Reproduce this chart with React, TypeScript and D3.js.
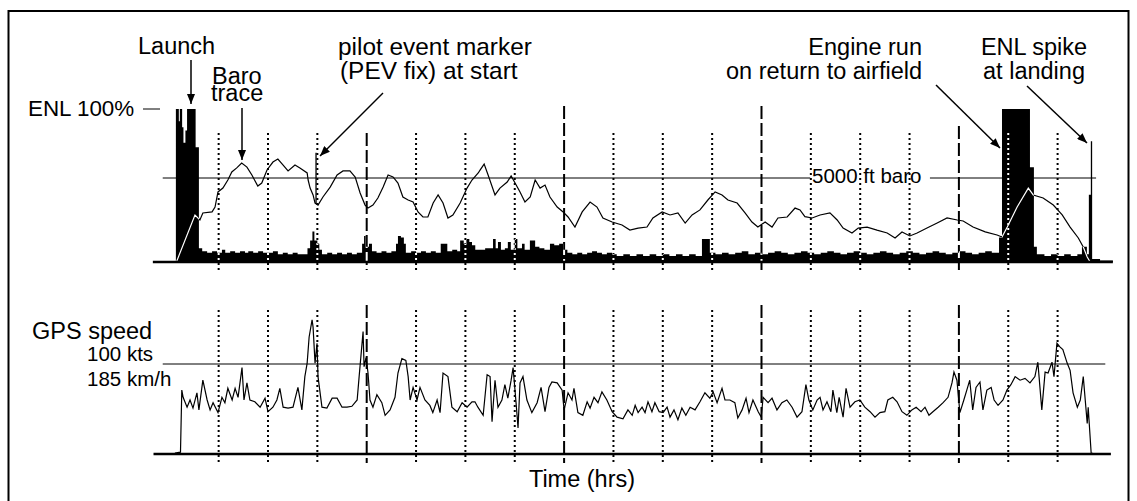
import React from "react";
import * as d3 from "d3";

const W = 1137;
const H = 501;

// ---- time grid (minutes) ----
const gridMinutes = [15, 30, 45, 60, 75, 90, 105, 120, 135, 150, 165, 180, 195, 210, 225, 240, 255, 270];

// ---- barograph trace: time (min) / altitude (ft) ----
const baroTime = [
  2.2, 7.8, 9.3, 10.2, 13.0, 13.9, 14.8, 16.3, 17.8, 19.0,
  20.5, 22.0, 23.6, 25.1, 26.9, 28.1, 29.7, 31.5, 33.0, 34.6,
  36.1, 38.2, 39.7, 41.9, 42.2, 42.8, 43.7, 44.3, 45.2, 46.7,
  48.9, 51.0, 52.8, 54.9, 56.5, 58.0, 59.5, 60.4, 61.9, 63.4,
  65.0, 66.5, 68.0, 69.5, 71.0, 72.6, 74.1, 75.6, 77.1, 78.6,
  80.2, 81.7, 83.2, 84.7, 86.2, 88.4, 90.5, 92.0, 93.9, 94.5,
  95.7, 96.9, 99.0, 100.5, 102.7, 103.9, 105.1, 106.6, 108.1, 109.7,
  111.2, 112.7, 114.2, 115.7, 117.9, 119.7, 121.2, 123.3, 125.5, 127.9,
  130.0, 131.8, 134.6, 137.6, 140.0, 142.5, 145.2, 147.0, 149.8, 152.2,
  154.6, 156.8, 158.9, 161.3, 163.7, 165.9, 168.0, 169.8, 172.6, 175.0,
  177.1, 178.9, 181.1, 183.2, 185.0, 187.8, 190.2, 191.7, 193.2, 195.4,
  197.8, 200.8, 203.0, 204.8, 207.5, 209.4, 212.1, 215.1, 218.2, 220.6,
  222.7, 225.1, 227.3, 230.3, 233.4, 236.4, 239.5, 241.3, 244.3, 248.0,
  251.6, 253.1, 254.7, 257.7, 261.1, 262.6, 265.6, 268.7, 271.4, 273.8,
  276.3, 277.8, 279.0, 279.9,
];
const baroAlt = [
  20, 2800, 2500, 2920, 2980, 3270, 4170, 4400, 4880, 5360,
  5600, 5890, 5650, 5180, 4520, 4700, 5480, 5950, 6130, 5770,
  5420, 5770, 5600, 5300, 4880, 4400, 3990, 3510, 3390, 3870,
  4460, 5180, 5420, 5420, 5060, 4110, 3390, 3210, 3390, 3810,
  4460, 5180, 5060, 4700, 3870, 3690, 3570, 2980, 2680, 2680,
  3510, 3990, 3510, 2620, 2800, 3510, 4400, 4880, 5300, 5480,
  5830, 5180, 3990, 4400, 4760, 5120, 4700, 4170, 3570, 3870,
  4880, 4400, 4580, 3870, 3270, 2980, 2680, 2080, 2980, 3570,
  3270, 2620, 2380, 2200, 1900, 2020, 2080, 2620, 2980, 2800,
  2920, 2320, 2800, 3100, 3690, 4170, 3990, 3690, 3510, 2920,
  2380, 2080, 2380, 2080, 2620, 2680, 3210, 3100, 2700, 2620,
  2800, 2920, 2500, 2020, 1730, 2020, 2080, 1900, 1730, 1430,
  1790, 1550, 1730, 2020, 2320, 2620, 2500, 2440, 2080, 1790,
  1610, 1490, 2080, 3270, 4400, 3990, 3810, 3390, 2800, 2080,
  1430, 890, 300, 0,
];

// ---- engine noise level: time (min) / ENL (%) ----
const enlTime = [
  2.0, 2.9, 3.2, 3.9, 4.3, 4.9, 5.4, 8.0, 9.0,
  10, 11.5, 13, 14.5, 16, 17, 18.5, 20, 21.5, 23, 24, 25.5, 27, 28.5, 30, 31.5, 33, 34.5, 36, 37.5, 39, 40.5,
  42, 42.8, 43.5, 44.1, 45, 45.6, 46.4,
  48, 49.5, 51, 52.5, 54, 55.5, 57,
  58.6, 59.2, 59.8, 60.7, 61.6,
  63, 64.5, 66, 67.5,
  68.9, 69.5, 70.4, 71.3, 71.9,
  73.5, 75, 76.5, 78, 79.5, 81,
  82.5, 84.5, 86, 87.5,
  88.4, 89.5, 90.3, 91.2, 92, 93,
  94.5, 96, 98.4, 99.2, 99.9, 100.8, 102, 102.9, 103.8, 105, 105.8, 107.2, 108, 109.6, 111.2, 112.5, 114, 115.7, 117, 118.5, 119.7,
  121, 122.5, 124, 125.5, 127, 128.5, 130, 131.5, 133,
  134.6, 136, 138, 140, 142, 144, 146, 148, 150, 152, 154, 156, 158, 160,
  161.9, 164.3,
  166, 168, 170, 172, 174, 176, 178, 180, 182, 184, 186, 188, 190, 192, 194, 196, 198, 200, 202, 204, 206, 208,
  210, 212, 214, 216, 218, 220, 222, 224, 226, 228, 230, 232, 234, 236, 238, 240, 242, 244, 246, 248, 250,
  252.2, 253.1, 261.6, 262.8, 263.7,
  266, 268, 270, 272, 274, 276,
  277.4, 278.9, 279.5, 280.1, 280.5, 282.9, 286.8,
];
const enlValue = [
  100, 92, 100, 88, 78, 86, 100, 75, 9,
  7, 6, 7, 6, 8, 6, 7, 6, 7, 6, 7, 6, 7, 6, 6, 7, 5, 6, 5, 6, 5, 5,
  9, 14, 20, 14, 12, 8, 5,
  6, 5, 6, 5, 6, 5, 6,
  12, 17, 10, 12, 7,
  6, 7, 6, 7,
  12, 17, 16, 12, 6,
  7, 6, 7, 6, 7, 6,
  12, 7, 8, 7,
  14, 12, 15, 13, 11, 8,
  8, 9, 15, 9, 13, 8, 9, 13, 8, 15, 9, 12, 8, 14, 10, 9, 8, 12, 11, 12, 8,
  6, 5, 6, 5, 6, 7, 6, 5, 6,
  5, 4, 5, 4, 5, 4, 5, 4, 5, 4, 5, 4, 5, 4,
  15, 6,
  5, 6, 5, 6, 7, 5, 6, 5, 6, 7, 6, 5, 6, 7, 6, 5, 6, 7, 6, 5, 6, 7,
  6, 5, 6, 7, 6, 5, 6, 7, 6, 5, 6, 7, 6, 5, 6, 7, 6, 5, 6, 7, 6,
  16, 100, 62, 10, 5,
  4, 5, 4, 5, 4, 5,
  10, 5, 44, 79, 2, 1, 0,
];

// ---- GPS ground speed: time (min) / speed (kts) ----
const speedTime = [
  1.7, 3.4, 3.8, 4.2, 5.4, 6.3, 7.2, 8.4, 9.0, 10.2,
  11.5, 12.4, 13.3, 14.8, 16.0, 16.9, 17.8, 19.1, 20.0, 20.9,
  22.1, 22.7, 23.6, 24.5, 26.0, 27.6, 29.1, 30.0, 31.5, 32.7,
  33.6, 34.6, 36.1, 37.6, 39.1, 40.3, 41.2, 41.9, 42.5, 43.4,
  43.7, 44.3, 44.9, 45.2, 46.4, 47.9, 49.5, 51.0, 52.5, 54.0,
  55.5, 57.1, 57.7, 58.9, 59.2, 59.8, 60.4, 61.0, 61.9, 63.1,
  64.6, 65.6, 67.1, 68.6, 69.5, 70.7, 71.9, 72.6, 73.2, 74.1,
  75.3, 76.2, 77.7, 79.2, 80.1, 81.4, 82.3, 83.2, 84.7, 85.9,
  87.5, 89.0, 90.5, 92.0, 92.9, 93.8, 95.4, 96.6, 97.5, 98.1,
  99.0, 99.9, 101.1, 102.0, 102.9, 103.9, 104.5, 105.4, 106.0, 106.6,
  107.5, 108.7, 110.2, 111.8, 113.0, 114.2, 115.4, 116.3, 117.9, 119.4,
  120.0, 121.2, 122.4, 123.0, 124.2, 125.7, 127.0, 127.9, 129.1, 130.3,
  131.5, 133.0, 134.6, 136.1, 137.9, 139.4, 140.7, 141.6, 142.5, 143.7,
  144.6, 145.5, 146.7, 147.6, 148.9, 150.1, 151.3, 152.2, 153.4, 154.6,
  155.8, 157.0, 158.3, 159.8, 161.3, 162.8, 164.3, 165.3, 166.5, 168.0,
  168.9, 170.4, 171.9, 172.8, 174.1, 175.3, 176.2, 177.4, 179.0, 179.9,
  180.5, 182.0, 183.2, 184.7, 186.2, 187.7, 189.3, 190.8, 192.3, 193.5,
  194.4, 195.6, 196.9, 197.8, 198.7, 199.9, 201.1, 201.7, 202.9, 203.6,
  204.8, 205.7, 206.9, 208.4, 209.9, 211.4, 213.0, 214.5, 216.0, 217.5,
  218.4, 219.9, 221.2, 222.7, 224.2, 225.7, 227.0, 228.5, 229.7, 230.9,
  232.1, 233.7, 235.2, 236.7, 237.9, 238.5, 239.4, 240.3, 241.5, 242.4,
  243.3, 244.2, 245.2, 246.4, 247.3, 248.5, 249.8, 250.7, 251.9, 253.4,
  254.6, 255.8, 257.1, 258.6, 260.1, 261.6, 263.1, 264.0, 265.2, 266.2,
  267.1, 268.3, 268.9, 269.8, 270.7, 271.6, 272.9, 273.8, 274.7, 276.0,
  276.9, 277.8, 278.4, 279.0, 279.3, 280.2, 281.4,
];
const speedKts = [
  1, 2, 71, 63, 52, 60, 51, 68, 49, 82,
  60, 49, 57, 46, 63, 57, 73, 60, 73, 63,
  96, 60, 79, 60, 58, 52, 62, 47, 52, 60,
  73, 52, 51, 52, 74, 49, 86, 101, 130, 149,
  141, 101, 123, 86, 52, 51, 62, 62, 52, 52,
  53, 60, 86, 136, 97, 107, 90, 60, 52, 66,
  57, 43, 49, 63, 90, 106, 104, 86, 60, 74,
  60, 74, 60, 54, 46, 60, 46, 90, 86, 52,
  47, 57, 52, 58, 58, 52, 43, 88, 86, 36,
  82, 52, 60, 77, 62, 82, 96, 57, 29, 79,
  86, 60, 46, 57, 74, 47, 74, 80, 79, 71,
  49, 68, 60, 73, 46, 43, 58, 51, 63, 57,
  69, 60, 47, 41, 39, 49, 43, 54, 46, 52,
  46, 58, 47, 57, 47, 46, 52, 41, 49, 38,
  51, 43, 52, 49, 58, 68, 62, 69, 57, 73,
  60, 60, 57, 40, 49, 62, 46, 60, 47, 41,
  63, 57, 62, 49, 57, 60, 52, 41, 47, 77,
  60, 49, 60, 63, 49, 58, 47, 71, 46, 63,
  41, 73, 52, 58, 60, 52, 47, 41, 46, 47,
  60, 63, 58, 47, 43, 49, 52, 47, 52, 43,
  47, 52, 57, 63, 79, 91, 82, 46, 60, 71,
  82, 49, 74, 80, 49, 71, 74, 60, 54, 60,
  71, 77, 86, 82, 84, 79, 86, 102, 49, 91,
  90, 102, 86, 123, 119, 116, 101, 93, 68, 52,
  60, 86, 60, 34, 52, 1, 0,
];

// pilot event (PEV) fix
const pevTime = 44.6;
const pevMarkerTopAlt = 6500;

const FONT = "'Liberation Sans', Arial, Helvetica, sans-serif";

export default function App() {
  const x = d3.scaleLinear().domain([0, 300]).range([169.3, 169.3 + 300 * 3.29]);
  const yEnl = d3.scaleLinear().domain([0, 100]).range([262, 109]);
  const yAlt = d3.scaleLinear().domain([0, 5000]).range([262, 178]);
  const ySpd = d3.scaleLinear().domain([0, 100]).range([454, 364]);

  const nE = Math.min(enlTime.length, enlValue.length);
  const nB = Math.min(baroTime.length, baroAlt.length);
  const nS = Math.min(speedTime.length, speedKts.length);
  const enlPts: [number, number][] = enlTime.slice(0, nE).map((t, i) => [t, enlValue[i]]);
  const baroPts: [number, number][] = baroTime.slice(0, nB).map((t, i) => [t, baroAlt[i]]);
  const spdPts: [number, number][] = speedTime.slice(0, nS).map((t, i) => [t, speedKts[i]]);

  const enlPath =
    d3
      .area<[number, number]>()
      .curve(d3.curveStepAfter)
      .x((d) => x(d[0]))
      .y0(yEnl(0))
      .y1((d) => yEnl(d[1]))(enlPts) || "";
  const baroPath =
    d3
      .line<[number, number]>()
      .x((d) => x(d[0]))
      .y((d) => yAlt(d[1]))(baroPts) || "";
  const spdPath =
    d3
      .line<[number, number]>()
      .x((d) => x(d[0]))
      .y((d) => ySpd(d[1]))(spdPts) || "";

  const baroAt = d3.scaleLinear().domain(baroTime.slice(0, nB)).range(baroAlt.slice(0, nB));
  const pevAlt = baroAt(pevTime);

  const topStart = (m: number) => (m === 120 || m === 180 ? 106 : m === 240 ? 126 : 133);

  const gridLine = (m: number, y1: number, y2: number, color: string, key: string) => {
    const hour = m % 60 === 0;
    return (
      <line
        key={key}
        x1={x(m)}
        x2={x(m)}
        y1={y1}
        y2={y2}
        stroke={color}
        strokeWidth={2}
        strokeDasharray={hour ? "13,4" : "2,3"}
      />
    );
  };

  const big = { fontFamily: FONT, fontSize: 23.5, fill: "#000" } as const;
  const pev = { fontFamily: FONT, fontSize: 24.4, fill: "#000" } as const;
  const small = { fontFamily: FONT, fontSize: 20.5, fill: "#000" } as const;

  const arrows = [
    [191, 60, 191, 104],
    [242, 108, 242, 160],
    [383, 93, 320, 156],
    [936, 85, 1000, 148],
    [1027, 86, 1087, 143],
  ];

  return (
    <svg
      width={W}
      height={H}
      viewBox={`0 0 ${W} ${H}`}
      style={{ position: "absolute", left: 0, top: 0, background: "#fff" }}
    >
      <defs>
        <clipPath id="enlClip">
          <path d={enlPath} />
        </clipPath>
        <marker
          id="ah"
          viewBox="0 0 10 10"
          refX={10}
          refY={5}
          markerWidth={10}
          markerHeight={8}
          markerUnits="userSpaceOnUse"
          orient="auto"
          preserveAspectRatio="none"
        >
          <path d="M0,0 L10,5 L0,10 z" fill="#000" />
        </marker>
      </defs>
      <rect x={0} y={0} width={W} height={H} fill="#fff" />
      <rect x={8.5} y={11} width={1120} height={495} fill="none" stroke="#000" strokeWidth={2} />

      {/* grid lines */}
      {gridMinutes.map((m) => gridLine(m, topStart(m), 270, "#000", "gt" + m))}
      {gridMinutes.map((m) => gridLine(m, m % 60 === 0 ? 305 : 310, 463, "#000", "gb" + m))}

      {/* reference lines */}
      <line x1={x(-2)} x2={x(194.8)} y1={yAlt(5000)} y2={yAlt(5000)} stroke="#000" strokeWidth={1} />
      <line x1={x(231.2)} x2={x(281.7)} y1={yAlt(5000)} y2={yAlt(5000)} stroke="#000" strokeWidth={1} />
      <line x1={x(-2)} x2={x(284.5)} y1={ySpd(100)} y2={ySpd(100)} stroke="#000" strokeWidth={1} />

      {/* ENL */}
      <path d={enlPath} fill="#000" />
      {/* baro */}
      <path d={baroPath} fill="none" stroke="#000" strokeWidth={1.2} />
      <g clipPath="url(#enlClip)">
        {gridMinutes.map((m) => gridLine(m, topStart(m), 270, "#fff", "gw" + m))}
        <path d={baroPath} fill="none" stroke="#fff" strokeWidth={1.2} />
      </g>
      {/* PEV marker */}
      <line x1={x(pevTime)} x2={x(pevTime)} y1={yAlt(pevAlt)} y2={yAlt(pevMarkerTopAlt)} stroke="#000" strokeWidth={1.3} />

      {/* baselines */}
      <line x1={x(-5)} x2={x(286.8)} y1={yEnl(0)} y2={yEnl(0)} stroke="#000" strokeWidth={2.5} />
      <line x1={x(-4.8)} x2={x(286.2)} y1={ySpd(0)} y2={ySpd(0)} stroke="#000" strokeWidth={2.5} />

      {/* GPS speed */}
      <path d={spdPath} fill="none" stroke="#000" strokeWidth={1.2} />

      {/* ENL 100% marker */}
      <line x1={143} x2={160} y1={yEnl(100)} y2={yEnl(100)} stroke="#000" strokeWidth={1} />

      {/* arrows */}
      {arrows.map((a, i) => (
        <line key={"a" + i} x1={a[0]} y1={a[1]} x2={a[2]} y2={a[3]} stroke="#000" strokeWidth={1.5} markerEnd="url(#ah)" />
      ))}

      {/* labels */}
      <text x={28} y={116} {...big} fontSize={22.4}>ENL 100%</text>
      <text x={138} y={54} {...big}>Launch</text>
      <text x={212} y={84} {...big}>Baro</text>
      <text x={211} y={101} {...big}>trace</text>
      <text x={338} y={55} {...pev}>pilot event marker</text>
      <text x={340} y={79} {...pev}>(PEV fix) at start</text>
      <text x={922} y={55} textAnchor="end" {...big}>Engine run</text>
      <text x={922} y={79} textAnchor="end" {...big}>on return to airfield</text>
      <text x={1034} y={55} textAnchor="middle" {...big}>ENL spike</text>
      <text x={1034} y={79} textAnchor="middle" {...big}>at landing</text>
      <text x={812} y={183} {...small}>5000 ft baro</text>
      <text x={32} y={339} {...big}>GPS speed</text>
      <text x={87} y={361} {...small}>100 kts</text>
      <text x={87} y={386} {...small}>185 km/h</text>
      <text x={582} y={487} textAnchor="middle" {...big}>Time (hrs)</text>
    </svg>
  );
}
